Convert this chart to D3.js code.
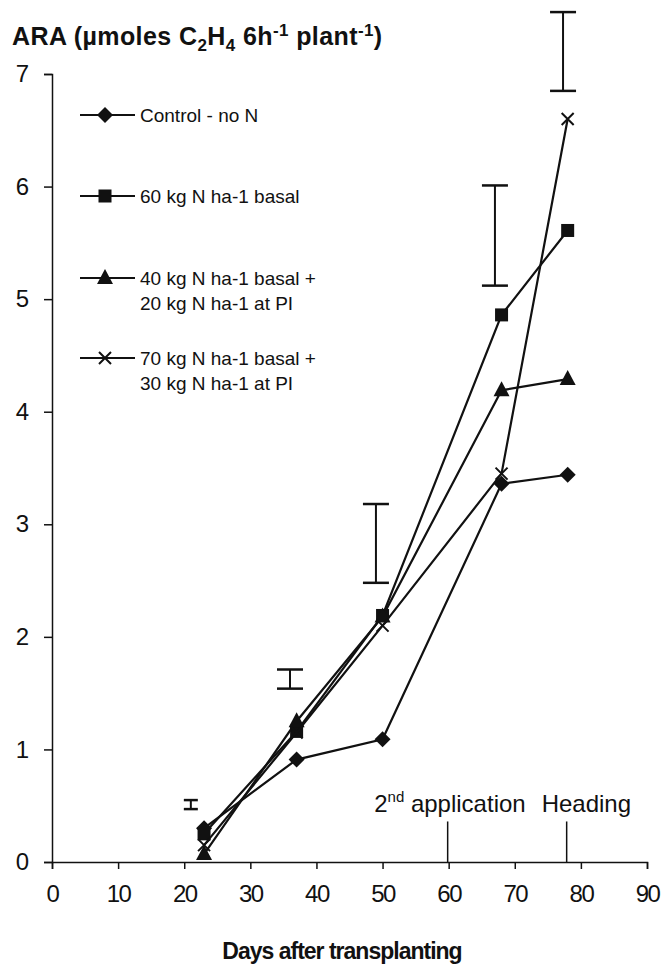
<!DOCTYPE html>
<html>
<head>
<meta charset="utf-8">
<script src="https://cdn.jsdelivr.net/npm/d3@7"></script>
<style>
  body { margin: 0; background: #fff; }
  text { font-family: "Liberation Sans", Arial, sans-serif; fill: #111; }
</style>
</head>
<body>
<div id="chart"></div>
<script>
// chart data
var days = [23, 37, 50, 68, 78]
var control = [0.3, 0.91, 1.09, 3.36, 3.44]
var basal60 = [0.25, 1.16, 2.19, 4.86, 5.61]
var split4020 = [0.07, 1.25, 2.18, 4.19, 4.29]
var split7030 = [0.15, 1.15, 2.1, 3.45, 6.6]
var seriesNames = ["Control - no N", "60 kg N ha-1 basal", "40 kg N ha-1 basal +|20 kg N ha-1 at PI", "70 kg N ha-1 basal +|30 kg N ha-1 at PI"]
// LSD bars
var barDays = [21, 36, 49, 67, 77.3]
var barLow = [0.47, 1.54, 2.48, 5.12, 6.85]
var barHigh = [0.55, 1.71, 3.18, 6.01, 7.55]
var xTicks = [0, 10, 20, 30, 40, 50, 60, 70, 80, 90]
var yTicks = [0, 1, 2, 3, 4, 5, 6, 7]
var eventDays = [60, 78]

var width = 663,
    height = 968

var svg = d3.select("#chart")
  .append("svg")
    .attr("width", width)
    .attr("height", height)

var x = d3.scaleLinear().domain([0, 90]).range([52, 647])
var y = d3.scaleLinear().domain([0, 7]).range([862, 74])

// axes
var xAxis = svg.append("g")
  .attr("transform", "translate(0," + y(0) + ")")
  .call(d3.axisBottom(x).tickValues(xTicks).tickSize(7).tickPadding(16))
xAxis.selectAll("text").style("font-size", "24px").style("letter-spacing", "-1.5px")

var yAxis = svg.append("g")
  .attr("transform", "translate(" + x(0) + ",0)")
  .call(d3.axisLeft(y).tickValues(yTicks).tickFormat(d3.format("d")).tickSize(8).tickPadding(15))
yAxis.selectAll("text").style("font-size", "24px")

svg.selectAll(".domain").attr("stroke", "#111").attr("stroke-width", 1.5)
svg.selectAll(".tick line").attr("stroke", "#111").attr("stroke-width", 1.5)

// title
var title = svg.append("text")
  .attr("x", 12).attr("y", 45)
  .style("font-size", "25px").style("font-weight", "bold").style("letter-spacing", "0.4px")
title.append("tspan").text("ARA (\u00b5moles C")
title.append("tspan").attr("dy", 6).style("font-size", "17px").text("2")
title.append("tspan").attr("dy", -6).text("H")
title.append("tspan").attr("dy", 6).style("font-size", "17px").text("4")
title.append("tspan").attr("dy", -6).text(" 6h")
title.append("tspan").attr("dy", -9).style("font-size", "17px").text("-1")
title.append("tspan").attr("dy", 9).text(" plant")
title.append("tspan").attr("dy", -9).style("font-size", "17px").text("-1")
title.append("tspan").attr("dy", 9).text(")")

// x axis title
svg.append("text")
  .attr("x", 342).attr("y", 959)
  .attr("text-anchor", "middle")
  .style("font-size", "23px").style("font-weight", "bold").style("letter-spacing", "-1px")
  .text("Days after transplanting")

// event markers
svg.selectAll(".event")
  .data(eventDays)
  .enter()
  .append("line")
    .attr("x1", function(d){ return x(d) - 1 })
    .attr("x2", function(d){ return x(d) - 1 })
    .attr("y1", y(0.36))
    .attr("y2", y(0))
    .attr("stroke", "#111").attr("stroke-width", 1.5)

var ev = svg.append("text")
  .attr("x", x(60) + 77).attr("y", y(0.44))
  .attr("text-anchor", "end")
  .style("font-size", "24px")
ev.append("tspan").text("2")
ev.append("tspan").attr("dy", -10).style("font-size", "15px").text("nd")
ev.append("tspan").attr("dy", 10).text(" application")

svg.append("text")
  .attr("x", x(78) - 26).attr("y", y(0.44))
  .style("font-size", "24px")
  .text("Heading")

// error bars
var bars = barDays.map(function(d, i){ return {day: d, lo: barLow[i], hi: barHigh[i], w: i == 0 ? 7 : 13} })
var eb = svg.selectAll(".eb").data(bars).enter().append("g")
eb.append("line")
  .attr("x1", function(d){ return x(d.day) }).attr("x2", function(d){ return x(d.day) })
  .attr("y1", function(d){ return y(d.lo) }).attr("y2", function(d){ return y(d.hi) })
  .attr("stroke", "#111").attr("stroke-width", 2)
eb.append("line")
  .attr("x1", function(d){ return x(d.day) - d.w }).attr("x2", function(d){ return x(d.day) + d.w })
  .attr("y1", function(d){ return y(d.lo) }).attr("y2", function(d){ return y(d.lo) })
  .attr("stroke", "#111").attr("stroke-width", 2.5)
eb.append("line")
  .attr("x1", function(d){ return x(d.day) - d.w }).attr("x2", function(d){ return x(d.day) + d.w })
  .attr("y1", function(d){ return y(d.hi) }).attr("y2", function(d){ return y(d.hi) })
  .attr("stroke", "#111").attr("stroke-width", 2.5)

// series
var series = [
  {name: seriesNames[0], values: control, shape: "diamond"},
  {name: seriesNames[1], values: basal60, shape: "square"},
  {name: seriesNames[2], values: split4020, shape: "triangle"},
  {name: seriesNames[3], values: split7030, shape: "x"}
]

function marker(g, shape) {
  if (shape == "diamond") {
    g.append("path").attr("d", "M0,-8L8,0L0,8L-8,0Z").attr("fill", "#111")
  } else if (shape == "square") {
    g.append("rect").attr("x", -6.5).attr("y", -6.5).attr("width", 13).attr("height", 13).attr("fill", "#111")
  } else if (shape == "triangle") {
    g.append("path").attr("d", "M0,-9L8,6L-8,6Z").attr("fill", "#111")
  } else {
    g.append("path").attr("d", "M-6,-6L6,6M-6,6L6,-6").attr("stroke", "#111").attr("stroke-width", 2)
  }
}

var line = d3.line()
  .x(function(d){ return x(d[0]) })
  .y(function(d){ return y(d[1]) })

series.forEach(function(s) {
  var pts = days.map(function(d, i){ return [d, s.values[i]] })
  svg.append("path")
    .attr("d", line(pts))
    .attr("fill", "none")
    .attr("stroke", "#111")
    .attr("stroke-width", 2.2)
  pts.forEach(function(p) {
    var g = svg.append("g").attr("transform", "translate(" + x(p[0]) + "," + y(p[1]) + ")")
    marker(g, s.shape)
  })
})

// legend
var legendY = [115, 196, 278, 358]
series.forEach(function(s, i) {
  var g = svg.append("g").attr("transform", "translate(0," + legendY[i] + ")")
  g.append("line").attr("x1", 80).attr("x2", 135).attr("y1", 0).attr("y2", 0)
    .attr("stroke", "#111").attr("stroke-width", 2)
  var m = g.append("g").attr("transform", "translate(105,0)")
  marker(m, s.shape)
  s.name.split("|").forEach(function(t, j) {
    g.append("text").attr("x", 140).attr("y", 7 + j * 25)
      .style("font-size", "19px").text(t)
  })
})
</script>
</body>
</html>
